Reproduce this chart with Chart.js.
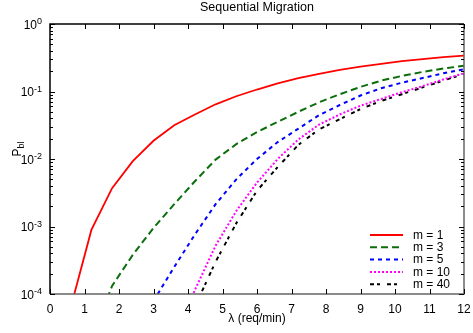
<!DOCTYPE html>
<html>
<head>
<meta charset="utf-8">
<script src="https://cdn.jsdelivr.net/npm/chart.js@4/dist/chart.umd.min.js"></script>
<style>
html,body{margin:0;padding:0;background:#fff;}
#wrap{width:473px;height:333px;position:relative;}
</style>
</head>
<body>
<div id="wrap"><canvas id="c" width="473" height="333"></canvas></div>
<script>
// ---- data ----
const lambda = [0.6,1.2,1.8,2.4,3.0,3.6,4.2,4.8,5.4,6.0,6.6,7.2,7.8,8.4,9.0,9.6,10.2,10.8,11.4,12.0];
const m1  = [6.3e-5,8.9e-4,3.7e-3,9.3e-3,1.86e-2,3.16e-2,4.57e-2,6.46e-2,8.51e-2,0.107,0.132,0.158,0.182,0.209,0.234,0.257,0.282,0.302,0.324,0.339];
const m3  = [null,2.1e-5,1.32e-4,3.8e-4,9.5e-4,2.14e-3,4.68e-3,9.8e-3,1.66e-2,2.51e-2,3.55e-2,5.01e-2,6.92e-2,9.12e-2,0.117,0.145,0.170,0.195,0.219,0.240];
const m5  = [null,null,null,1.0e-5,7.9e-5,2.51e-4,7.6e-4,2.14e-3,5.0e-3,1.0e-2,1.78e-2,2.82e-2,4.47e-2,6.31e-2,8.71e-2,0.112,0.135,0.158,0.186,0.214];
const m10 = [null,null,null,null,null,2.0e-5,1.15e-4,5.2e-4,1.7e-3,4.47e-3,1.0e-2,1.95e-2,3.24e-2,4.57e-2,6.17e-2,7.76e-2,9.77e-2,0.120,0.151,0.186];
const m40 = [null,null,null,null,null,null,6.5e-5,3.0e-4,1.12e-3,3.39e-3,7.6e-3,1.62e-2,2.75e-2,3.89e-2,5.5e-2,7.24e-2,9.12e-2,0.115,0.145,0.182];
const seriesNames = ['m = 1','m = 3','m = 5','m = 10','m = 40'];
const xTicks = [0,1,2,3,4,5,6,7,8,9,10,11,12];
const yDecades = [1e-4,1e-3,1e-2,1e-1,1];
const chartTitle = 'Sequential Migration';
const xTitle = 'λ (req/min)';

const FONT = "'Liberation Sans', Arial, Helvetica, sans-serif";
Chart.defaults.font.family = FONT;

function pts(arr){ return lambda.map((x,i)=>({x:x,y:arr[i]})).filter(p=>p.y!==null); }

const styles = [
  {color:'#ff0000', dash:[], width:1.8},
  {color:'#0a6e0a', dash:[7,4], width:2},
  {color:'#0000ff', dash:[4,4], width:2},
  {color:'#ff00ff', dash:[2,2], width:2},
  {color:'#000000', dash:[4,3,3,7], width:2}
];
const allSeries = [m1,m3,m5,m10,m40];

const datasets = allSeries.map((s,i)=>({
  label: seriesNames[i],
  data: pts(s),
  borderColor: styles[i].color,
  backgroundColor: styles[i].color,
  borderDash: styles[i].dash,
  borderWidth: styles[i].width,
  pointRadius: 0,
  tension: 0,
  fill: false
}));

const decor = {
  id:'decor',
  afterDatasetsDraw(chart){
    const ctx = chart.ctx, a = chart.chartArea;
    const xs = chart.scales.x, ys = chart.scales.y;
    ctx.save();
    ctx.setLineDash([]);
    // frame
    ctx.lineWidth = 1.5;
    ctx.strokeStyle = '#000';
    ctx.beginPath(); ctx.moveTo(a.left, a.bottom); ctx.lineTo(a.left, a.top); ctx.lineTo(a.right, a.top); ctx.stroke();
    ctx.strokeStyle = '#666';
    ctx.beginPath(); ctx.moveTo(a.left, a.bottom); ctx.lineTo(a.right, a.bottom); ctx.lineTo(a.right, a.top); ctx.stroke();
    // x ticks
    ctx.lineWidth = 1;
    ctx.strokeStyle = '#000';
    xTicks.forEach(v=>{
      const px = Math.round(xs.getPixelForValue(v))+0.5;
      ctx.beginPath();
      ctx.moveTo(px,a.bottom); ctx.lineTo(px,a.bottom-5);
      ctx.moveTo(px,a.top); ctx.lineTo(px,a.top+5);
      ctx.stroke();
    });
    // y ticks (major + minor)
    yDecades.forEach((d,di)=>{
      const py = Math.round(ys.getPixelForValue(d))+0.5;
      ctx.beginPath();
      ctx.moveTo(a.left,py); ctx.lineTo(a.left+5,py);
      ctx.moveTo(a.right,py); ctx.lineTo(a.right-5,py);
      ctx.stroke();
      if (di < yDecades.length-1){
        for (let k=2;k<=9;k++){
          const pm = Math.round(ys.getPixelForValue(d*k))+0.5;
          ctx.beginPath();
          ctx.moveTo(a.left,pm); ctx.lineTo(a.left+3,pm);
          ctx.moveTo(a.right,pm); ctx.lineTo(a.right-3,pm);
          ctx.stroke();
        }
      }
    });
    // y tick labels 10^n
    ctx.fillStyle = '#000';
    yDecades.forEach(d=>{
      const py = ys.getPixelForValue(d);
      const e = String(Math.round(Math.log10(d)));
      ctx.font = '9px ' + FONT;
      ctx.textAlign = 'right'; ctx.textBaseline = 'alphabetic';
      const ew = ctx.measureText(e).width;
      ctx.fillText(e, 42, py);
      ctx.font = '12px ' + FONT;
      ctx.fillText('10', 42 - ew, py + 4.5);
    });
    // y axis title P_bl
    ctx.save();
    ctx.translate(21, 149);
    ctx.rotate(-Math.PI/2);
    ctx.textAlign = 'left'; ctx.textBaseline = 'alphabetic';
    ctx.font = '12px ' + FONT;
    const pw = ctx.measureText('P').width;
    ctx.font = '9px ' + FONT;
    const bw = ctx.measureText('bl').width;
    const start = -(pw+bw)/2;
    ctx.font = '12px ' + FONT;
    ctx.fillText('P', start, 0);
    ctx.font = '9px ' + FONT;
    ctx.fillText('bl', start+pw, 3);
    ctx.restore();
    // legend
    ctx.font = '12px ' + FONT;
    ctx.textAlign = 'left'; ctx.textBaseline = 'middle';
    const rows = [235, 247.3, 259.6, 271.9, 284.2];
    datasets.forEach((ds,i)=>{
      const y = rows[i];
      ctx.strokeStyle = ds.borderColor;
      ctx.lineWidth = ds.borderWidth;
      ctx.setLineDash(ds.borderDash);
      ctx.beginPath(); ctx.moveTo(370,y); ctx.lineTo(403,y); ctx.stroke();
      ctx.setLineDash([]);
      ctx.fillStyle = '#000';
      ctx.fillText(ds.label, 413, y+0.5);
    });
    // x axis title and chart title
    ctx.textAlign = 'center'; ctx.textBaseline = 'middle';
    ctx.font = '12px ' + FONT;
    ctx.fillText(xTitle, (a.left+a.right)/2, 319);
    ctx.font = '12.5px ' + FONT;
    ctx.fillText(chartTitle, (a.left+a.right)/2, 7.5);
    ctx.restore();
  }
};

new Chart(document.getElementById('c'), {
  type:'line',
  data:{datasets:datasets},
  options:{
    responsive:false,
    animation:false,
    layout:{padding:{left:0,right:9,top:24,bottom:0}},
    plugins:{
      legend:{display:false},
      tooltip:{enabled:false},
      title:{display:false}
    },
    scales:{
      x:{
        type:'linear', min:0, max:12,
        grid:{display:false, drawTicks:false},
        border:{display:false},
        afterBuildTicks(s){ s.ticks = xTicks.map(v=>({value:v})); },
        ticks:{color:'#000', font:{size:12,family:FONT}, padding:8, maxRotation:0, autoSkip:false, callback:v=>String(v)},
        afterFit(s){ s.height = 39; s.paddingLeft = 0; s.paddingRight = 0; }
      },
      y:{
        type:'logarithmic', min:1e-4, max:1,
        grid:{display:false, drawTicks:false},
        border:{display:false},
        ticks:{display:false},
        afterFit(s){ s.width = 50; s.paddingTop = 0; s.paddingBottom = 0; }
      }
    }
  },
  plugins:[decor]
});
</script>
</body>
</html>
